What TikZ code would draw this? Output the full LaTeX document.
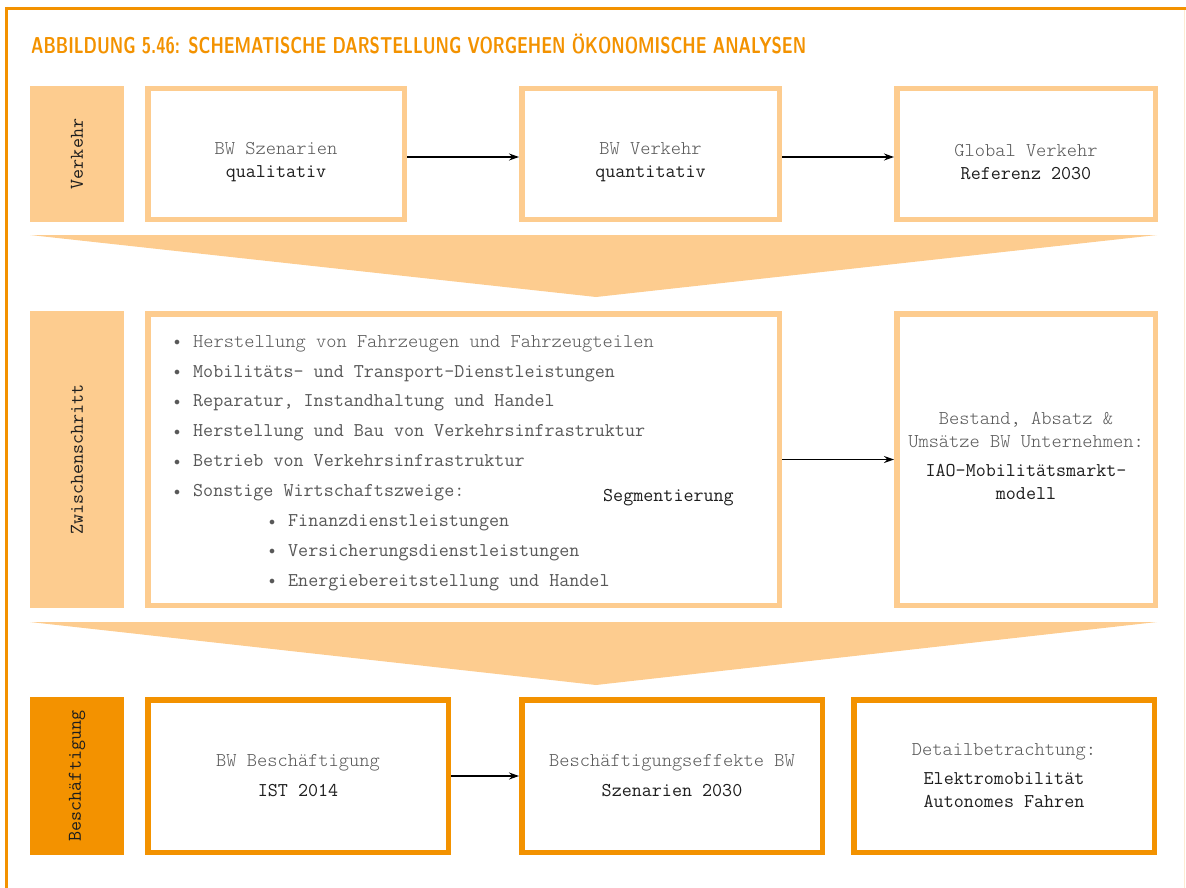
\documentclass[tikz,border=0pt]{standalone}
\usepackage{graphicx}
\usetikzlibrary{arrows.meta,positioning}
\definecolor{ablight}{RGB}{253,204,143}
\definecolor{abdark}{RGB}{243,146,0}
\definecolor{txtgray}{RGB}{88,88,88}
\definecolor{txtdark}{RGB}{30,30,30}
\newcommand{\abfont}{\fontsize{19.5}{23}\selectfont\ttfamily}
\newcommand{\grau}[1]{{\color{txtgray}\fontseries{l}\selectfont #1}}
\newcommand{\pkt}{\makebox[19pt][l]{\raisebox{1.5pt}{\fontsize{12}{12}\selectfont$\bullet$}}}

\begin{document}
\begin{tikzpicture}[x=1pt,y=-1pt,node distance=112pt,
    box/.style={draw=ablight,line width=5.5pt,fill=white,align=center,font=\abfont,text=txtdark},
    boxdark/.style={box,draw=abdark},
    lab/.style={fill=ablight,rotate=90,minimum height=94pt,inner sep=0pt,font=\abfont,text=txtdark},
    flow/.style={-{Stealth[length=10pt,width=7pt]},line width=1.2pt,black}]
  \useasboundingbox (0,0) rectangle (1186,888);
  % frame and title
  \draw[abdark,line width=3pt] (5,8.5) -- (1186,8.5);
  \draw[abdark,line width=3pt] (6.5,7) -- (6.5,888);
  \draw[ablight!40,line width=1pt] (1184.5,10) -- (1184.5,888);
  \node[anchor=base west,inner sep=0pt,text=abdark] (titel) at (31,54)
    {\resizebox{775pt}{\height}{\fontsize{23}{23}\selectfont\sffamily\bfseries ABBILDUNG 5.46: SCHEMATISCHE DARSTELLUNG VORGEHEN ÖKONOMISCHE ANALYSEN}};
  % Verkehr
  \node[lab,minimum width=136pt] (verkehr) at (77,154) {Verkehr};
  \node[box,minimum width=256.5pt,minimum height=130.5pt] (szen) at (276,154) {\rule{0pt}{28pt}\grau{BW Szenarien}\\qualitativ};
  \node[box,right=of szen,minimum width=257.5pt,minimum height=130.5pt] (bwverk) {\rule{0pt}{28pt}\grau{BW Verkehr}\\quantitativ};
  \node[box,right=of bwverk,minimum width=258.5pt,minimum height=130.5pt] (global) {\rule{0pt}{28pt}\grau{Global Verkehr}\\Referenz 2030};
  \draw[flow] ([yshift=-3pt]szen.east) -- ([yshift=-3pt]bwverk.west);
  \draw[flow] ([yshift=-3pt]bwverk.east) -- ([yshift=-3pt]global.west);
  \fill[ablight] (30,235) -- (1157,235) -- (596,297) -- cycle;
  % Zwischenschritt
  \node[lab,minimum width=297pt] (zwischen) at (77,459.5) {Zwischenschritt};
  \node[box,minimum width=631.5pt,minimum height=291.5pt] (segm) at (463.5,459.5) {};
  \node[anchor=north west,inner sep=0pt,align=left,font=\fontsize{19.5}{29.9}\selectfont\ttfamily,text=txtgray] (liste) at (174,335)
    {\fontseries{l}\selectfont
     \pkt Herstellung von Fahrzeugen und Fahrzeugteilen\\
     \pkt Mobilitäts- und Transport-Dienstleistungen\\
     \pkt Reparatur, Instandhaltung und Handel\\
     \pkt Herstellung und Bau von Verkehrsinfrastruktur\\
     \pkt Betrieb von Verkehrsinfrastruktur\\
     \pkt Sonstige Wirtschaftszweige:\\
     \hspace*{95pt}\pkt Finanzdienstleistungen\\
     \hspace*{95pt}\pkt Versicherungsdienstleistungen\\
     \hspace*{95pt}\pkt Energiebereitstellung und Handel};
  \node[anchor=base west,inner sep=0pt,font=\abfont,text=txtdark] (segtxt) at (603,501) {Segmentierung};
  \node[box,right=of segm,minimum width=258.5pt,minimum height=291.5pt] (markt)
    {\grau{Bestand, Absatz \&}\\\grau{Umsätze BW Unternehmen:}\\[6pt]IAO-Mobilitätsmarkt-\\modell\rule[-8pt]{0pt}{0pt}};
  \draw[flow] (segm) -- (markt);
  \fill[ablight] (30,622) -- (1157,622) -- (596,685) -- cycle;
  % Beschaeftigung
  \node[lab,fill=abdark,minimum width=158pt] (besch) at (77,776) {Beschäftigung};
  \node[boxdark,minimum width=300.5pt,minimum height=152.5pt] (ist) at (298,776) {\grau{BW Beschäftigung}\\[7pt]IST 2014};
  \node[boxdark,right=68pt of ist,minimum width=300.5pt,minimum height=152.5pt] (effekte) {\grau{Beschäftigungseffekte BW}\\[7pt]Szenarien 2030};
  \node[boxdark,right=26pt of effekte,minimum width=300.5pt,minimum height=152.5pt] (detail) {\grau{Detailbetrachtung:}\\[6pt]Elektromobilität\\Autonomes Fahren};
  \draw[flow] (ist) -- (effekte);
\end{tikzpicture}
\end{document}
